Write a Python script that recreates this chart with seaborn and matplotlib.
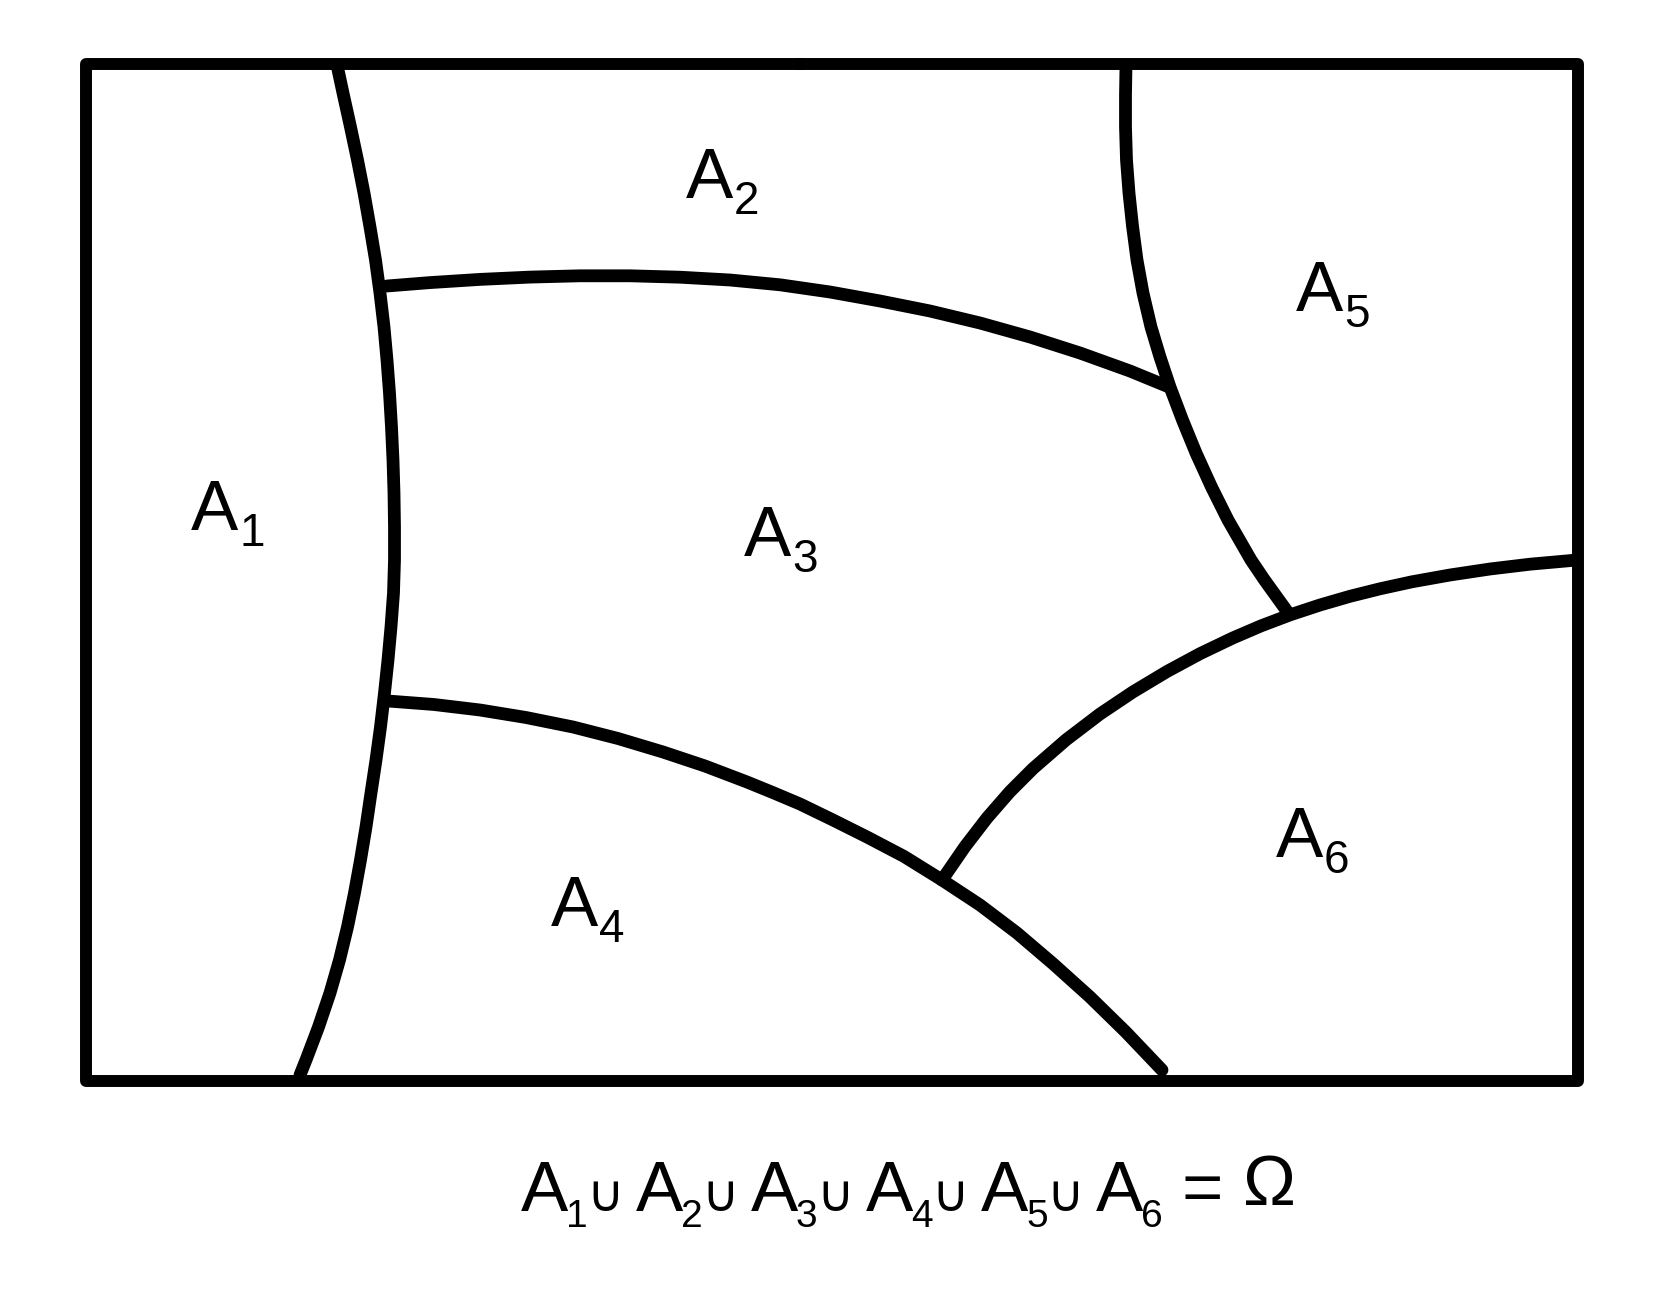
import matplotlib
matplotlib.use("Agg")
import matplotlib.pyplot as plt
import seaborn as sns

sns.set_theme(style="white")
plt.rcParams['font.family'] = ['Liberation Sans', 'DejaVu Sans']

# --- outer box (sample space Omega) ---
box_x = [800, 1578, 1578, 86, 86, 800]
box_y = [64, 64, 1081, 1081, 64, 64]

# --- partition boundaries, points ---
# left arc (A1 | rest), top -> bottom
c1_x = [337, 343, 350.5, 357.5, 364, 370, 375.5, 380, 384, 387, 389.5, 391.5, 393,
        394, 394.5, 394.5, 393.5, 391, 388, 384.5, 380.5, 376, 371, 366, 360.5,
        354.5, 347.5, 339.5, 330, 318.5, 306, 300]
c1_y = [65, 93, 127, 160, 193, 227, 260, 293, 327, 360, 393, 427, 460,
        493, 527, 560, 593, 627, 660, 693, 727, 760, 793, 827, 860,
        893, 927, 960, 993, 1027, 1060, 1075]
# A2 | A3, left -> right
c2_x = [387, 430, 480, 530, 580, 630, 680, 730, 780, 830, 880, 930, 980,
        1030, 1080, 1130, 1169]
c2_y = [286, 282.6, 279.4, 277.1, 275.8, 275.8, 277.2, 280, 284.8, 292, 301,
        311, 323, 337, 353, 371, 387]
# A5 left arc, top -> bottom
c3_x = [1126, 1125.5, 1125.5, 1126.5, 1129, 1132.5, 1137, 1143, 1151, 1160,
        1170, 1182.5, 1196, 1211.5, 1228, 1251, 1264.5, 1289]
c3_y = [65, 95, 127, 160, 193, 226, 260, 293, 327, 357, 387, 420, 453, 487,
        520, 560, 580, 614]
# A6 upper arc, junction -> right edge
c4_x = [942, 965, 987, 1010, 1033, 1066, 1100, 1133, 1167, 1200, 1233, 1261,
        1290, 1320, 1350, 1380, 1412, 1450, 1490, 1530, 1576]
c4_y = [880, 846.6, 818, 791.6, 768.6, 739.9, 714, 691.9, 671.5, 653.7, 637.9,
        625.9, 614.9, 605, 596.3, 588.8, 581.8, 575, 569, 564.2, 560.1]
# A4 upper arc, left -> bottom edge
c5_x = [388, 434, 480, 526, 573, 618, 663, 705, 747, 773, 800, 833, 867, 904,
        942, 980, 1017, 1053, 1090, 1126, 1162]
c5_y = [701, 704.5, 710, 717.5, 727, 738.5, 752, 766, 782, 792.6, 804, 820,
        837, 856.4, 880, 905, 933, 963.7, 997, 1032.2, 1070]

curves = [(c1_x, c1_y), (c2_x, c2_y), (c3_x, c3_y), (c4_x, c4_y), (c5_x, c5_y)]

# region labels A1..A6
labels = ['1', '2', '3', '4', '5', '6']
label_x = [191, 686, 744, 551, 1296, 1276]
label_y = [530, 198, 556, 926, 311, 857]

fig = plt.figure(figsize=(16.6, 12.96), dpi=100)
ax = fig.add_axes([0, 0, 1, 1])

sns.lineplot(x=box_x, y=box_y, sort=False, estimator=None, color='black',
             lw=8.6, solid_joinstyle='round', solid_capstyle='round', ax=ax)
for cx, cy in curves:
    sns.lineplot(x=cx, y=cy, sort=False, estimator=None, color='black',
                 lw=9.2, solid_joinstyle='round', solid_capstyle='round', ax=ax)

big = 51
for lab, lx, ly in zip(labels, label_x, label_y):
    ax.text(lx, ly, 'A', fontsize=big, ha='left', va='baseline', color='black')
    ax.text(lx + 48, ly + 16, lab, fontsize=33, ha='left', va='baseline',
            color='black')

# A1 ∪ A2 ∪ ... ∪ A6 = Ω
fx0, fstep, fbase = 521, 115, 1211
for i, lab in enumerate(labels):
    xa = fx0 + i * fstep
    ax.text(xa, fbase, 'A', fontsize=big, ha='left', va='baseline', color='black')
    ax.text(xa + 45, fbase + 16, lab, fontsize=28, ha='left', va='baseline',
            color='black')
    if i < len(labels) - 1:
        ax.text(xa + 84, fbase, '\u222a', fontsize=37, ha='center', va='baseline',
                family='DejaVu Sans', color='black')
ax.text(1181, fbase, '=', fontsize=big, ha='left', va='baseline', color='black')
ax.text(1243, fbase - 6, '\u03a9', fontsize=big, ha='left', va='baseline',
        color='black')

ax.set_xlim(0, 1660)
ax.set_ylim(1296, 0)
ax.axis('off')
fig.savefig('out.png', dpi=100, facecolor='white')
